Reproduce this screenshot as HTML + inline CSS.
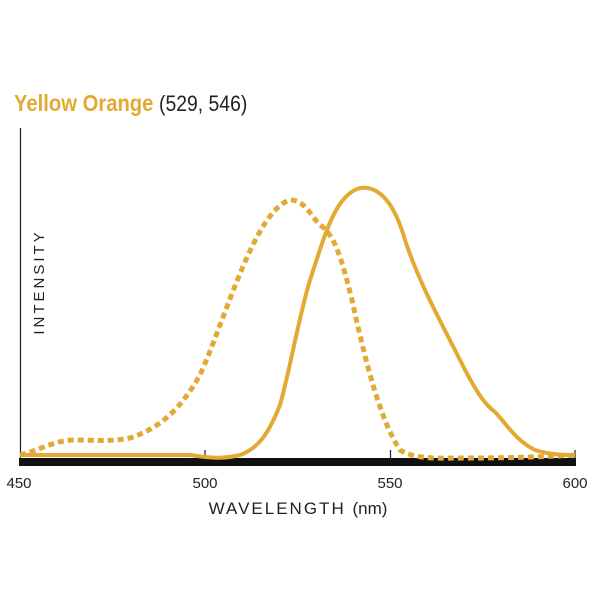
<!DOCTYPE html>
<html><head><style>body{margin:0;background:#fff}</style></head><body>
<svg width="600" height="600" xmlns="http://www.w3.org/2000/svg" style="font-family:'Liberation Sans',sans-serif">
<text x="14" y="111" font-size="23" font-weight="bold" fill="#e2aa32" transform="scale(0.88,1)" transform-origin="14 111">Yellow Orange <tspan font-weight="normal" fill="#222" font-size="22">(529, 546)</tspan></text>
<line x1="20.5" y1="128" x2="20.5" y2="462" stroke="#222" stroke-width="1.2"/>
<rect x="19" y="458" width="557" height="8" fill="#111"/>
<g stroke="#222" stroke-width="1.2"><line x1="205" y1="450" x2="205" y2="460"/><line x1="390.5" y1="450" x2="390.5" y2="460"/><line x1="575" y1="450" x2="575" y2="460"/></g>
<path d="M20,455 C40,450 55,440 75,440 C95,440 110,442 130,438 C160,428 180,410 200,375 C225,320 255,210 290,200 C305,200 310,215 320,225 C335,235 342,260 352,300 C365,360 380,420 400,450 C415,460 440,458 470,458 C520,458 560,456 575,455" fill="none" stroke="#e2aa32" stroke-width="5" stroke-dasharray="6,4"/>
<path d="M20,455 L190,455 C205,457 220,460 240,455 C260,448 270,430 280,405 C290,370 298,320 310,280 C325,235 335,195 360,188 C380,185 395,205 405,240 C420,285 440,320 460,360 C475,390 485,405 495,412 C505,422 515,440 535,450 C550,455 565,455 575,455" fill="none" stroke="#e2aa32" stroke-width="4"/>
<g font-size="15" fill="#222" text-anchor="middle"><text x="19" y="488">450</text><text x="205" y="488">500</text><text x="390" y="488">550</text><text x="575" y="488">600</text></g>
<text x="298" y="514" font-size="17" fill="#222" text-anchor="middle" letter-spacing="2">WAVELENGTH <tspan letter-spacing="0">(nm)</tspan></text>
<text transform="translate(44,282) rotate(-90)" font-size="15" fill="#222" text-anchor="middle" letter-spacing="3">INTENSITY</text>
</svg>
</body></html>
